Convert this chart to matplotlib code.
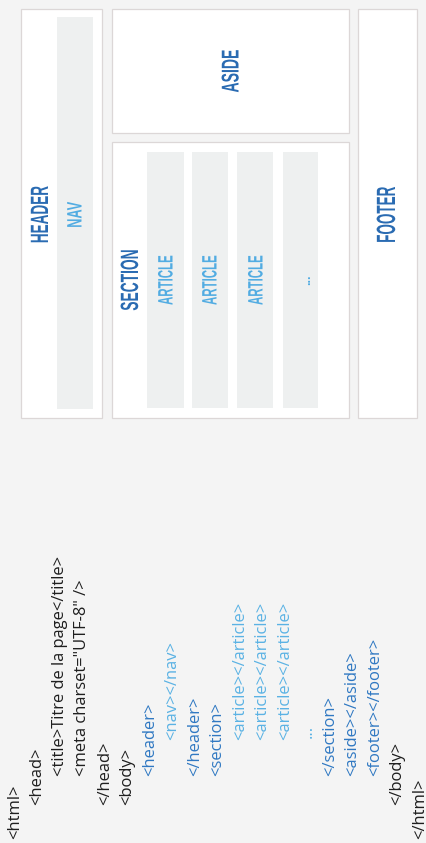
import matplotlib
matplotlib.use("Agg")
import matplotlib.pyplot as plt
from matplotlib.patches import Rectangle
from matplotlib.patheffects import AbstractPathEffect
from matplotlib.transforms import Affine2D
import numpy as np

# html source lines: text, indent level, colour group
code_lines = ['<html>', '<head>', '<title>Titre de la page</title>', '<meta charset="UTF-8" />',
              '</head>', '<body>', '<header>', '<nav></nav>', '</header>', '<section>',
              '<article></article>', '<article></article>', '<article></article>', '...',
              '</section>', '<aside></aside>', '<footer></footer>', '</body>', '</html>']
code_indent = [0, 1, 2, 2, 1, 1, 2, 3, 2, 2, 3, 3, 3, 3, 2, 2, 2, 1, 0]
code_group = ['k', 'k', 'k', 'k', 'k', 'k', 'd', 'l', 'd', 'd',
              'l', 'l', 'l', 'l', 'd', 'd', 'd', 'k', 'k']

# layout block labels
block_labels = ['HEADER', 'NAV', 'ASIDE', 'SECTION', 'ARTICLE', 'ARTICLE', 'ARTICLE', '...', 'FOOTER']

bg = '#f4f4f4'
colors = {'k': '#1e1e1e', 'd': '#2f78c2', 'l': '#5ab2e4'}
dark_lbl = '#2a6bb2'
light_lbl = '#52ace2'
box_fc = 'white'
box_ec = '#dcd7d7'
inner_fc = '#eef0f0'


class Squeeze(AbstractPathEffect):
    """squeeze glyphs along the baseline so the word is `length` px long"""
    def __init__(self, length):
        super().__init__()
        self.length = length

    def draw_path(self, renderer, gc, tpath, affine, rgbFace=None):
        ext = tpath.get_extents()
        m = affine.get_matrix()
        k = np.sqrt(abs(m[0, 0] * m[1, 1] - m[0, 1] * m[1, 0]))
        sx = self.length / (ext.width * k)
        cx = (ext.x0 + ext.x1) / 2
        t = Affine2D().translate(-cx, 0).scale(sx, 1).translate(cx, 0)
        renderer.draw_path(gc, tpath, t + affine, rgbFace)


fig = plt.figure(figsize=(4.27, 8.43), dpi=100, facecolor=bg)
ax = fig.add_axes([0, 0, 1, 1])
ax.set_xlim(0, 427)
ax.set_ylim(843, 0)
ax.axis('off')
ax.set_facecolor(bg)

# ---- code listing (rotated) ----
bottoms = [839, 805, 776, 740]
for i, (txt, lvl, grp) in enumerate(zip(code_lines, code_indent, code_group)):
    x = 15 + 22.5 * i
    y = bottoms[lvl]
    if txt == '...':
        y = 738
    ax.text(x, y, txt, rotation=90, ha='center', va='bottom', fontsize=11.9,
            family=['Open Sans', 'DejaVu Sans'], color=colors[grp])


def box(x0, y0, x1, y1, fc=box_fc, ec=box_ec):
    ax.add_patch(Rectangle((x0, y0), x1 - x0, y1 - y0, facecolor=fc,
                           edgecolor=ec if ec else 'none', lw=0.9))


# ---- layout blocks ----
box(21, 9, 102, 418)                 # header
box(57, 17, 93, 409, inner_fc, None)  # nav
box(112, 9, 349, 133)                # aside
box(112, 142, 349, 418)              # section
for a0, a1 in [(147, 184), (192, 228), (237, 273), (283, 318)]:
    box(a0, 152, a1, 408, inner_fc, None)
box(358, 9, 417, 418)                # footer

lbl_pos = [(41, 215), (76, 215), (232, 71), (131, 280), (167, 280),
           (211, 280), (257, 280), (307, 280), (388, 215)]
lbl_len = [56, 25, 42, 60, 49, 49, 49, None, 55]
lbl_size = [18, 15, 17.5, 18, 15, 15, 15, 9, 19]
for name, (x, y), ln, fs in zip(block_labels, lbl_pos, lbl_len, lbl_size):
    c = dark_lbl if name in ('HEADER', 'ASIDE', 'SECTION', 'FOOTER') else light_lbl
    t = ax.text(x, y, name, rotation=90, ha='center', va='center', fontsize=fs,
                fontweight='bold', family=['Liberation Sans Narrow', 'Liberation Sans', 'DejaVu Sans'],
                color=c)
    if ln:
        t.set_path_effects([Squeeze(ln)])

fig.savefig('out.png', dpi=100, facecolor=bg)
